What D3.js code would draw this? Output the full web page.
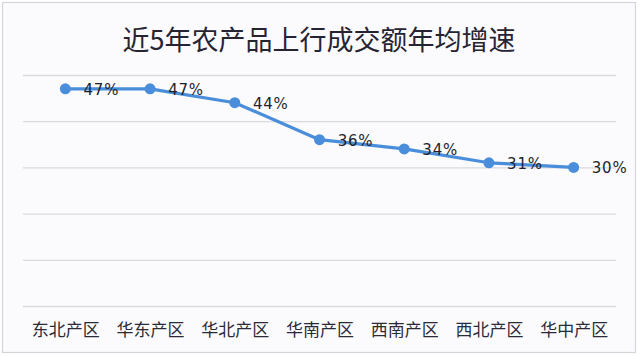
<!DOCTYPE html>
<html>
<head>
<meta charset="utf-8">
<script src="https://cdn.jsdelivr.net/npm/d3@7"></script>
<style>
  html, body { margin: 0; padding: 0; background: #ffffff; }
  svg { display: block; font-family: "Noto Sans CJK SC", "Noto Sans", sans-serif; }
</style>
</head>
<body>
<div id="chart"></div>
<script>
// chart data
var titleText = "近5年农产品上行成交额年均增速";
var regions = ["东北产区", "华东产区", "华北产区", "华南产区", "西南产区", "西北产区", "华中产区"];
var growthRates = [47, 47, 44, 36, 34, 31, 30]; // percent
var gridTicks = [0, 10, 20, 30, 40, 50];

var W = 640, H = 357;
var plotLeft = 23, plotRight = 616, plotTop = 75, plotBottom = 306;
var lineColor = "#4a8edb";

var svg = d3.select("#chart").append("svg")
  .attr("width", W)
  .attr("height", H);

// panel background + thin frame
svg.append("rect")
  .attr("x", 2.5).attr("y", 2.5)
  .attr("width", 633).attr("height", 350)
  .attr("fill", "#fbfbfd")
  .attr("stroke", "#d4d5da")
  .attr("stroke-width", 1.2);

// title
svg.append("text")
  .attr("x", 319).attr("y", 38)
  .attr("text-anchor", "middle")
  .attr("dominant-baseline", "central")
  .style("font-size", "27px")
  .style("font-weight", 400)
  .style("fill", "#262433")
  .text(titleText);

// scales
var x = d3.scalePoint().domain(regions).range([plotLeft, plotRight]).padding(0.5);
var y = d3.scaleLinear().domain([0, 50]).range([plotBottom, plotTop]);

// horizontal gridlines
var grid = svg.append("g")
  .attr("transform", "translate(" + plotLeft + ",0)")
  .call(d3.axisLeft(y).tickValues(gridTicks).tickSize(-(plotRight - plotLeft)).tickFormat(""));
grid.select(".domain").remove();
grid.selectAll(".tick line")
  .attr("stroke", "#d9dadf")
  .attr("stroke-width", 1.3);

// category labels
var xAxis = svg.append("g")
  .attr("transform", "translate(0," + plotBottom + ")")
  .call(d3.axisBottom(x).tickSize(0).tickPadding(0));
xAxis.select(".domain").remove();
xAxis.selectAll("text")
  .attr("y", 24)
  .attr("dy", "0.35em")
  .style("font-family", "'Noto Sans CJK SC', sans-serif")
  .style("font-size", "17px")
  .style("fill", "#2b2a38");

// line
var line = d3.line()
  .x(function(d, i) { return x(regions[i]); })
  .y(function(d) { return y(d); });

svg.append("path")
  .datum(growthRates)
  .attr("d", line)
  .attr("fill", "none")
  .attr("stroke", lineColor)
  .attr("stroke-width", 3.2)
  .attr("stroke-linejoin", "round");

// markers
svg.selectAll(".dot")
  .data(growthRates)
  .enter()
  .append("circle")
  .attr("class", "dot")
  .attr("cx", function(d, i) { return x(regions[i]); })
  .attr("cy", function(d) { return y(d); })
  .attr("r", 5.5)
  .attr("fill", lineColor);

// value labels
svg.selectAll(".val")
  .data(growthRates)
  .enter()
  .append("text")
  .attr("class", "val")
  .attr("x", function(d, i) { return x(regions[i]) + 36; })
  .attr("y", function(d) { return y(d) + 1; })
  .attr("text-anchor", "middle")
  .attr("dominant-baseline", "central")
  .style("font-family", "'DejaVu Sans', sans-serif")
  .style("font-size", "15px")
  .style("letter-spacing", "0.8px")
  .style("fill", "#1f1f2c")
  .text(function(d) { return d + "%"; });
</script>
</body>
</html>
